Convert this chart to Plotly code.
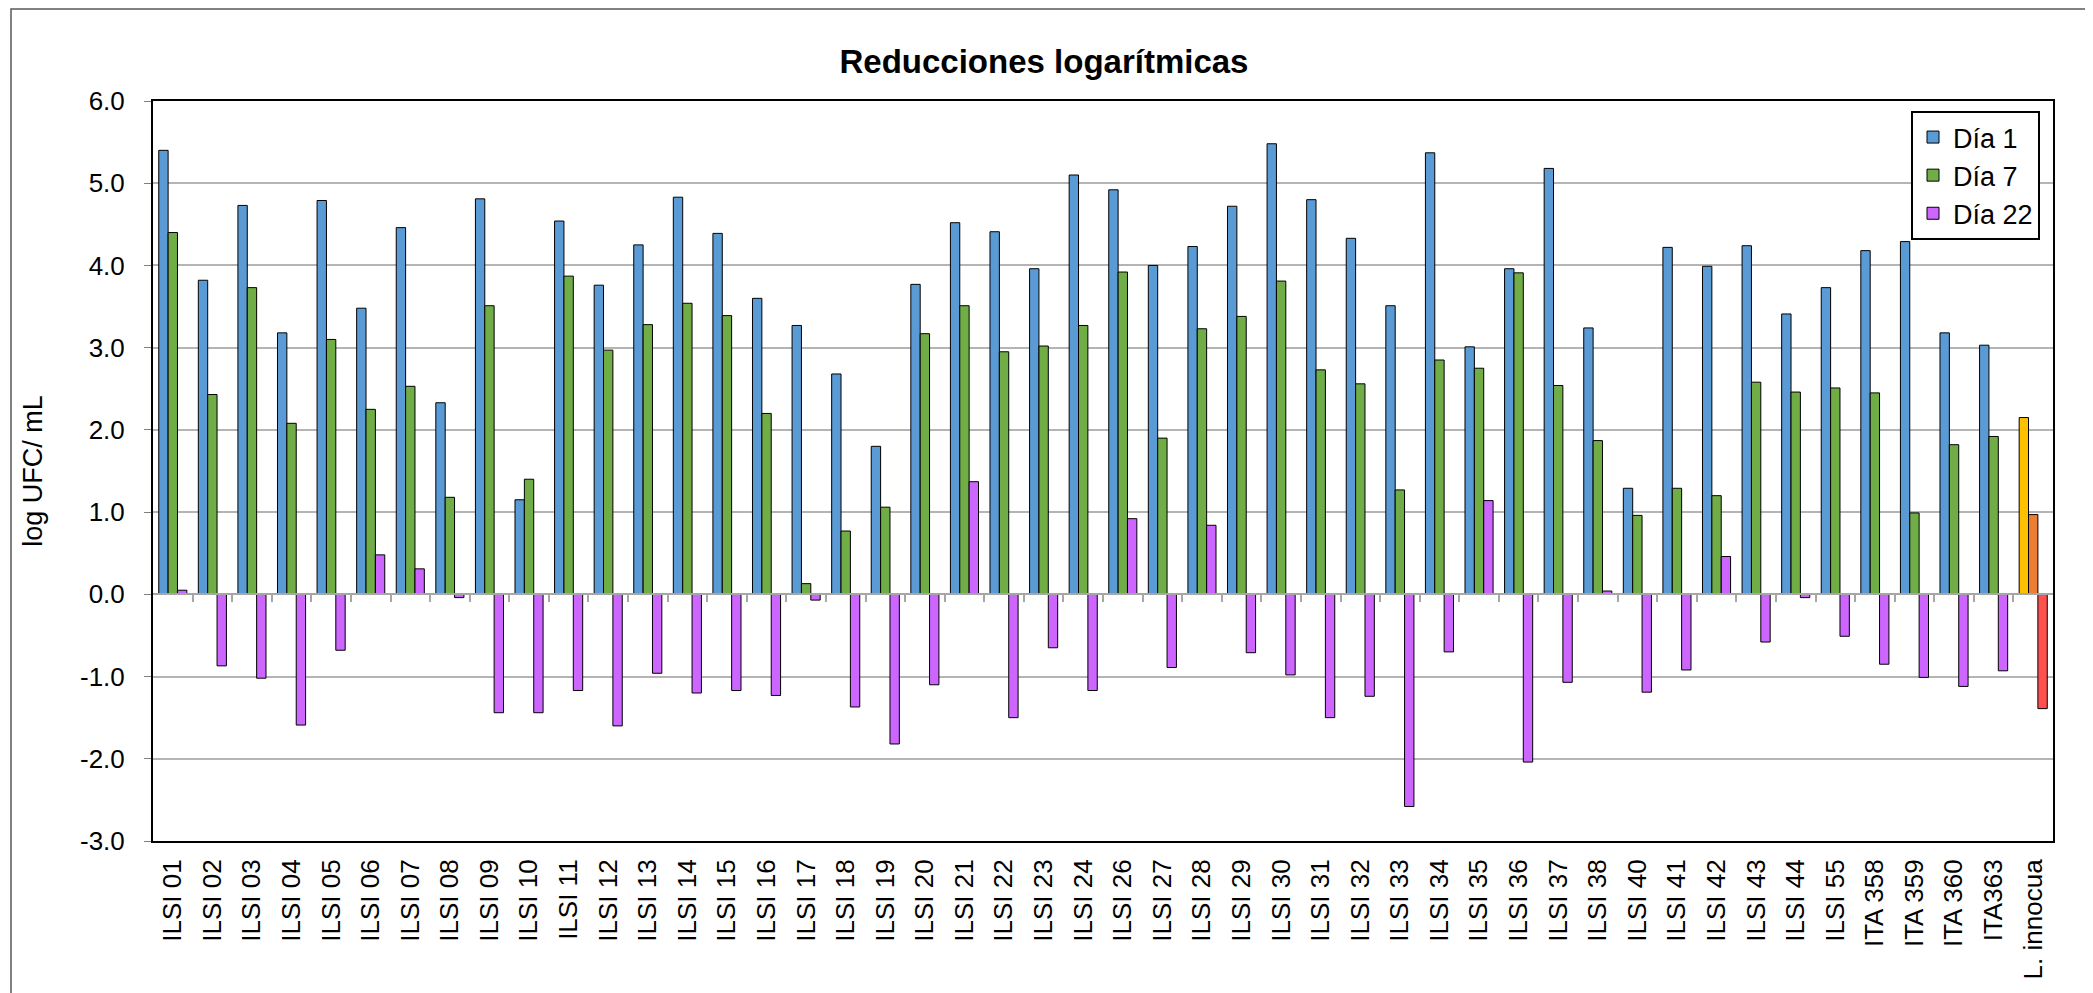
import plotly.graph_objects as go

categories = ["ILSI 01", "ILSI 02", "ILSI 03", "ILSI 04", "ILSI 05", "ILSI 06", "ILSI 07", "ILSI 08",
              "ILSI 09", "ILSI 10", "ILSI 11", "ILSI 12", "ILSI 13", "ILSI 14", "ILSI 15", "ILSI 16",
              "ILSI 17", "ILSI 18", "ILSI 19", "ILSI 20", "ILSI 21", "ILSI 22", "ILSI 23", "ILSI 24",
              "ILSI 26", "ILSI 27", "ILSI 28", "ILSI 29", "ILSI 30", "ILSI 31", "ILSI 32", "ILSI 33",
              "ILSI 34", "ILSI 35", "ILSI 36", "ILSI 37", "ILSI 38", "ILSI 40", "ILSI 41", "ILSI 42",
              "ILSI 43", "ILSI 44", "ILSI 55", "ITA 358", "ITA 359", "ITA 360", "ITA363", "L. innocua"]

dia1 = [5.40, 3.82, 4.73, 3.18, 4.79, 3.48, 4.46, 2.33, 4.81, 1.15, 4.54, 3.76,
        4.25, 4.83, 4.39, 3.60, 3.27, 2.68, 1.80, 3.77, 4.52, 4.41, 3.96, 5.10,
        4.92, 4.00, 4.23, 4.72, 5.48, 4.80, 4.33, 3.51, 5.37, 3.01, 3.96, 5.18,
        3.24, 1.29, 4.22, 3.99, 4.24, 3.41, 3.73, 4.18, 4.29, 3.18, 3.03, 2.15]

dia7 = [4.40, 2.43, 3.73, 2.08, 3.10, 2.25, 2.53, 1.18, 3.51, 1.40, 3.87, 2.97,
        3.28, 3.54, 3.39, 2.20, 0.13, 0.77, 1.06, 3.17, 3.51, 2.95, 3.02, 3.27,
        3.92, 1.90, 3.23, 3.38, 3.81, 2.73, 2.56, 1.27, 2.85, 2.75, 3.91, 2.54,
        1.87, 0.96, 1.29, 1.20, 2.58, 2.46, 2.51, 2.45, 0.99, 1.82, 1.92, 0.97]

dia22 = [0.05, -0.87, -1.02, -1.59, -0.68, 0.48, 0.31, -0.04, -1.44, -1.44, -1.17, -1.60,
         -0.96, -1.20, -1.17, -1.23, -0.07, -1.37, -1.82, -1.10, 1.37, -1.50, -0.65, -1.17,
         0.92, -0.89, 0.84, -0.71, -0.98, -1.50, -1.24, -2.58, -0.70, 1.14, -2.04, -1.07,
         0.04, -1.19, -0.92, 0.46, -0.58, -0.04, -0.51, -0.85, -1.01, -1.12, -0.93, -1.39]

series_names = ["Día 1", "Día 7", "Día 22"]
y_ticks = [6, 5, 4, 3, 2, 1, 0, -1, -2, -3]
y_tick_labels = ["6.0", "5.0", "4.0", "3.0", "2.0", "1.0", "0.0", "-1.0", "-2.0", "-3.0"]

# style (page body has an 8px margin, so the figure is offset by OFF px in the window)
OFF = 8
W, H = 2093 - OFF, 993 - OFF
ML, MR, MT, MB = 153 - OFF, 40, 101 - OFF, 152
PW, PH = W - ML - MR, H - MT - MB
FONT = "Liberation Sans, Arial, sans-serif"
base_colors = ["#5B9BD5", "#70AD47", "#CC66FF"]
special_colors = ["#FFC000", "#ED7D31", "#FF5050"]  # L. innocua bars

def px_x(p):  # window pixel -> paper fraction
    return (p - OFF - ML) / PW

def px_y(p):
    return (H - MB - (p - OFF)) / PH

fig = go.Figure()
for name, vals, c, sc in zip(series_names, [dia1, dia7, dia22], base_colors, special_colors):
    cols = [c] * len(categories)
    cols[-1] = sc
    fig.add_trace(go.Bar(
        x=categories, y=vals, name=name,
        marker=dict(color=cols, line=dict(color="#000000", width=1)),
    ))

# invisible trace on overlay axis used for zero-line tick marks
n = len(categories)
fig.add_trace(go.Scatter(x=[-0.5, n - 0.5], y=[0, 0], xaxis="x2", mode="lines",
                         line=dict(width=0), showlegend=False, hoverinfo="skip"))

ymin, ymax = min(y_ticks), max(y_ticks)
zero_pos = (0 - ymin) / (ymax - ymin)

fig.update_layout(
    width=W, height=H,
    margin=dict(l=ML, r=MR, t=MT, b=MB),
    paper_bgcolor="white", plot_bgcolor="white",
    font=dict(family=FONT, size=26, color="black"),
    barmode="group", bargap=0.29, bargroupgap=0,
    title=dict(text="<b>Reducciones logarítmicas</b>", x=(1044 - OFF) / W, xref="container",
               xanchor="center", y=1 - (61 - OFF) / H, yref="container", yanchor="middle",
               font=dict(family=FONT, size=33, color="black")),
    xaxis=dict(type="category", categoryorder="array", categoryarray=categories,
               tickangle=-90, ticks="", showline=True, linecolor="black", linewidth=2,
               mirror=True, showgrid=False, tickfont=dict(size=26), ticklabelstandoff=6,
               automargin=False),
    xaxis2=dict(overlaying="x", anchor="free", position=zero_pos, range=[-0.5, n - 0.5],
                tickvals=[i + 0.5 for i in range(n - 1)], ticks="outside", ticklen=7,
                tickcolor="#A6A6A6", tickwidth=1.5, showticklabels=False, showgrid=False,
                showline=True, linecolor="#A6A6A6", linewidth=1.5, zeroline=False,
                side="bottom", automargin=False),
    yaxis=dict(range=[ymin, ymax], tickvals=y_ticks, ticktext=y_tick_labels, ticks="outside",
               ticklen=7, tickcolor="#808080", showline=True, linecolor="black", linewidth=2,
               mirror=True, showgrid=True, gridcolor="#B4B4B4", gridwidth=1.5,
               zeroline=False, tickfont=dict(size=26), ticklabelstandoff=14,
               title=dict(text="log UFC/ mL", font=dict(size=27), standoff=30),
               automargin=False),
    legend=dict(x=px_x(2040), y=px_y(111), xanchor="right", yanchor="top",
                bgcolor="white", bordercolor="black", borderwidth=2,
                font=dict(size=27), traceorder="normal", itemwidth=30,
                tracegroupgap=0),
    shapes=[dict(type="rect", xref="paper", yref="paper",
                 x0=px_x(11), x1=px_x(2086), y0=px_y(1010), y1=px_y(9),
                 line=dict(color="#595959", width=1.5), fillcolor="rgba(0,0,0,0)",
                 layer="below")],
)

fig.write_html("out.html")
